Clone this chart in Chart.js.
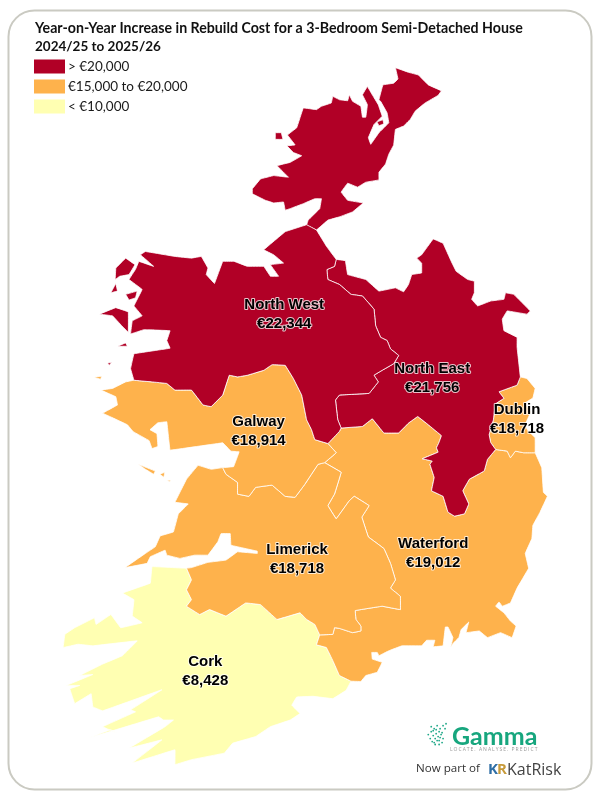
<!DOCTYPE html>
<html>
<head>
<meta charset="utf-8">
<title>Rebuild Cost Map</title>
<script src="https://cdn.jsdelivr.net/npm/chart.js@4/dist/chart.umd.min.js"></script>
<style>
  html, body { margin: 0; padding: 0; background: #fff; }
  canvas { display: block; }
</style>
</head>
<body>
<canvas id="map" width="600" height="800"></canvas>
<script>
// Region table
var regionNames = ['North West', 'North East', 'Dublin', 'Galway', 'Limerick', 'Waterford', 'Cork'];
var regionCosts = ['€22,344', '€21,756', '€18,718', '€18,914', '€18,718', '€19,012', '€8,428'];
var regionBands = [0, 0, 1, 1, 1, 1, 2];
var labelX = [284, 434, 520, 258, 297, 435, 204];
var labelY = [304, 369, 410, 422, 551, 545, 664];

var legendLabels = ['> €20,000', '€15,000 to €20,000', '< €10,000'];
var bandColors = ['#b10026', '#feb24c', '#ffffb2'];
var titleLines = ['Year-on-Year Increase in Rebuild Cost for a 3-Bedroom Semi-Detached House', '2024/25 to 2025/26'];

// Shared borders, so neighbouring regions line up
var nwNeBorder = [[336.7,258],[335,265],[327.3,268.3],[328.3,278.3],[340,283.3],[351.7,293.3],[363.3,295],[375,308.3],[376.7,325],[381.7,336.7],[388.3,340],[391.7,348.3],[400,355],[395,363.3],[383.3,370],[375,375],[379.3,381.7],[370,393.3],[340,395],[336,400],[338.3,420],[341.7,428.3]];
var nwGalwayBorder = [[131.7,380],[150,381.7],[165,383.3],[173.3,390],[190,390],[201.7,405],[210,406.7],[221.7,395],[228.3,375],[236.7,376.7],[246.7,375],[263.3,370],[271.7,364.3],[285,365],[293.3,378.3],[301.7,395],[306.7,420],[311.7,430],[315,440],[328.3,444]];
var nwWaterfordBorder = [[328.3,444],[340,431.7],[341.7,428.3]];
var neWaterfordBorder = [[341.7,428.3],[363.3,426.7],[373.3,419],[385,433.3],[400,433.3],[410,423.3],[419.3,416.7],[430,425],[443.3,436],[440.7,443.3],[438.3,448.3],[440,452.7],[424,459.3],[434,461.7],[431.7,465],[436,478.3],[433.3,491.7],[445,497.3],[450,513.3],[456.7,517.3],[466.7,515],[471,505],[465,491.7],[471.7,480],[486.7,471.7],[490,460],[498.3,450]];
var neDublinBorder = [[523.3,376.7],[520,385],[501.7,391.7],[506.7,398.3],[498,404],[496,420],[491.7,435],[493.3,443],[498.3,450]];
var dublinWaterfordBorder = [[498.3,450],[510,451.7],[513.3,458.3],[518.3,451.7],[526.7,453.3],[538.3,453.3]];
var galwayLimerickBorder = [[221.7,468.3],[225,475],[236.7,483.3],[236.7,495],[248.3,497.3],[255,488.3],[271.7,486],[285,497.3],[295,498.3],[305,485],[318.3,465],[325,463.3]];
var galwayWaterfordBorder = [[325,463.3],[336.7,453.3],[328.3,444]];
var limerickWaterfordBorder = [[325,463.3],[341.7,473],[335,495],[328.3,506.7],[336.7,520],[350,501.7],[355,497.3],[370,506.7],[362.7,518.3],[369.3,538.3],[385,550],[391.7,565],[396.7,581.7],[391.7,590],[401.7,598.3],[401.7,611.7],[383.3,608.3],[356,612.7],[356.7,621.7],[361.7,628.3],[361.7,633.3],[353.3,635],[340,630.7],[335,630],[333.3,636.7],[320,637.3]];
var corkLimerickBorder = [[320,637.3],[315,626.7],[306.7,621.7],[300,615],[276.7,621.7],[260,606.7],[245,605],[225,618.3],[208.3,611.7],[198.3,616.7],[185,608.3],[190,601.7],[185,591.7],[190,581.7],[185,570]];
var corkWaterfordBorder = [[320,637.3],[316.7,647.3],[326.7,650],[333.3,663.3],[340,678.3],[351.7,684]];

// Coast lines
var nwCoast = [[128.3,368.3],[131.7,353.3],[168.3,347.7],[165,340],[168.3,330],[141.7,329],[128.3,333.3],[130,320],[140,315],[131.7,305],[140,288.3],[126.7,278.3],[133.3,268],[136.7,260],[151.7,265],[138.3,253.3],[143.3,250],[173.3,255],[190,256.7],[200,255],[206.7,266.7],[205,273.3],[213.3,282.3],[221.7,260],[233.3,260],[246.7,265],[263.3,265],[270,275],[278.3,275],[270,263.3],[283.3,261.7],[273.3,253.3],[263.3,248.3],[285,230],[306.7,223],[316.7,228.3],[327,245]];
var neCoast = [[346,259.3],[348.3,273.3],[366.7,278.3],[380,290],[396.7,286.7],[405,290.7],[410,283.3],[413.3,273.3],[423.3,271.7],[423.3,261.7],[418.3,256.7],[423.3,253.3],[435,237.3],[445,241.7],[453.3,260],[458.3,270],[470,278.3],[476.7,280],[476.7,291.7],[474,298.3],[480,305],[493.3,300],[506.7,298.3],[508.3,291.7],[516.7,293.3],[533.3,310],[530,313.3],[510,310],[505,318.3],[506.7,330],[520,336.7],[520,346.7]];
var dublinCoast = [[530,378.3],[538.3,388.3],[536,398],[528,403],[534,412],[528,425],[531,431],[538.3,438]];
var waterfordCoast = [[545,468.3],[546.7,493.3],[550.7,497.3],[543.3,513.3],[536,526.7],[535,540],[528.3,555],[531.7,570],[520,590],[513.3,605],[505,608.3],[501.7,604],[498.3,608.3],[506.7,615],[513.3,623.3],[519,628.3],[515,640],[503.3,635],[490,640],[481.7,633.3],[468.3,635],[471,624.3],[463.3,632],[461,640],[455,646],[452.7,650],[455,640],[450,629.3],[447.3,629.3],[446,640],[445,648.3],[435,649.3],[436.7,642.7],[428.3,642.7],[423.3,648.3],[403.3,648.3],[390,653.3],[380,658.3],[378.3,655],[372.7,655],[373.3,661.7],[383.3,665],[378.3,675],[366.7,678.3],[361.7,684.3]];
var galwayCoast = [[123.3,381.7],[110,388.3],[98.3,390],[113.3,396.7],[115,405],[100,413.3],[108,417],[125,425],[131,432],[147,441],[150,449],[156,447],[155,434],[148,430],[156,423],[165,422],[167,440],[168.3,450.7],[221.7,443.3],[230,451.7],[238.3,452.3],[232.7,467.3]];
var limerickCoast = [[190,569.3],[206.7,564],[225,561.7],[236.7,553.3],[256.7,555],[256.7,552.7],[230,546.7],[229.3,535],[220,535],[216.7,543.3],[206.7,556.7],[193.3,556.7],[178.3,560],[165,556.7],[163.3,551.7],[148.3,558.3],[145,565],[122.7,569.3],[143.3,555],[153.3,548.3],[158.3,537.3],[171.7,533.3],[176.7,515],[186.7,505],[173.3,503.3],[185,480],[196.7,466],[210,470]];
var corkCoast = [[346.7,693.3],[333.3,701.7],[313.3,699.3],[296.7,700],[291.7,708.3],[300,716.7],[290,723.3],[270,730],[255,740],[231.7,746.7],[223.3,756.7],[190,763.3],[173.3,768.3],[173.3,753.3],[130,766.7],[160,743.3],[126.7,751.7],[163.3,730],[171.7,723.3],[161.7,723.3],[156.7,720],[85,741.7],[108,733],[115,736.7],[100,730],[133.3,715],[128.3,713],[160,692.7],[100,714],[90,710],[88.3,696.7],[71.7,706.7],[66.7,691.7],[76.7,688.3],[63.3,688.3],[90,677.3],[76.7,678.3],[100,666.7],[120,658.3],[135,643.3],[90,648.3],[75,646.7],[60,650],[61.7,636.7],[71.7,630],[91.7,620],[93.3,626.7],[108.3,616.7],[118.3,630],[140,625],[130,618.3],[131.7,601.7],[120,595],[148.3,585],[150,568.3]];

// Donegal and the islands are separate pieces
var donegal = [[396.7,64.3],[410,69],[420,71.7],[430,81.7],[443.3,87.7],[440,92.3],[426.7,100],[416.7,108.3],[411.7,116.7],[405,123.3],[396.7,126.7],[395,142.3],[390,151.7],[386.7,161.7],[380,170],[380,177.7],[366.7,180],[358.3,185],[348.3,181],[341.7,190],[348.3,198.3],[364,201],[353.3,210],[340,215],[328.3,218.3],[316.7,228.3],[306.7,223.3],[308.3,218.3],[320,206.7],[321.7,196.7],[315,196.7],[303.3,201.7],[290,206.7],[285,208.3],[283.3,200],[273.3,201],[265,198.3],[251.7,191.7],[251.7,186.7],[260,176.7],[273.3,173.3],[288.3,175],[276.7,163.3],[290,160],[301.7,153.3],[293.3,150],[286.7,143.3],[295,142.3],[287.3,132.3],[296.7,125],[303.3,105],[316.7,106.7],[321.7,103.3],[331.7,100],[333.3,93.3],[340,96.7],[348.3,97.7],[350,91.7],[353.3,98.3],[361.7,103.3],[363.3,114.3],[366.7,114.3],[368.3,101.7],[363.3,91.7],[368.3,83.3],[373.3,91.7],[379.3,101.7],[383.3,113.3],[375,121.7],[369.3,135],[371.7,141.7],[380,130],[390,120],[388.3,110],[381.7,98.3],[380,96.7],[384,81.7],[395,80],[399.3,75.7]];
var inchIsland = [[378,119],[384,117],[385,121],[380,123]];
var arranmore = [[275,130],[281,130],[282.7,136.7],[275,136.7]];
var erris1 = [[113.3,266.7],[123.3,256.7],[132.7,263.3],[126.7,273.3],[117.3,275],[112.7,278.3]];
var erris2 = [[108.3,291.7],[113.3,282.3],[115,290]];
var erris3 = [[123.3,293.3],[135,290],[133.3,296.7],[126.7,299]];
var achill = [[96.7,313.3],[113.3,306.7],[126,311],[126,331.7],[119.3,325],[110,315]];
var clareIsland = [[115,345.7],[123.3,342.3],[125,345.7]];
var inishturk = [[105,363],[109.3,361.7],[106.7,365]];
var aranMore = [[136,465],[153.3,471.7],[151.7,475],[143.3,470]];
var aranMiddle = [[158,475],[163,473],[162,478]];
var aranEast = [[165,481],[169,481],[168,482.5]];
var inishbofin = [[91,377],[99,376],[98,379]];

// Logo dots
var logoDotX = [430,433,436,439,442,445,448,432,435,438,441,444,447,434,437,440,443,436,439,442,435,438,441,444,433,437,441,445];
var logoDotY = [738,735,732,729,732,729,727,742,739,737,735,736,732,745,742,740,738,746,744,741,734,733,744,746,730,748,748,742];

function rev(a) { return a.slice().reverse(); }

var northWest = [].concat(nwNeBorder, rev(nwWaterfordBorder), rev(nwGalwayBorder), nwCoast);
var northEast = [].concat(rev(nwNeBorder), neCoast, neDublinBorder, rev(neWaterfordBorder));
var dublin = [].concat(rev(neDublinBorder), dublinCoast, rev(dublinWaterfordBorder));
var galway = [].concat(nwGalwayBorder, rev(galwayWaterfordBorder), rev(galwayLimerickBorder), rev(galwayCoast));
var waterford = [].concat(nwWaterfordBorder, neWaterfordBorder, dublinWaterfordBorder, waterfordCoast, rev(corkWaterfordBorder), rev(limerickWaterfordBorder), galwayWaterfordBorder);
var limerick = [].concat(galwayLimerickBorder, limerickWaterfordBorder, corkLimerickBorder, limerickCoast);
var cork = [].concat(rev(corkLimerickBorder), corkWaterfordBorder, corkCoast);

function shape(outline, band, name) {
    var pts = outline.concat([outline[0]]).map(function (p) { return { x: p[0], y: p[1] }; });
    return {
        label: name,
        data: pts,
        showLine: true,
        fill: 'shape',
        tension: 0.02,
        pointRadius: 0,
        pointHoverRadius: 0,
        borderWidth: 0.8,
        borderColor: '#ffffff',
        backgroundColor: bandColors[band]
    };
}

var datasets = [
    shape(northWest, regionBands[0], regionNames[0]),
    shape(donegal, regionBands[0], 'Donegal'),
    shape(inchIsland, regionBands[0], 'Inch Island'),
    shape(arranmore, regionBands[0], 'Arranmore'),
    shape(erris1, regionBands[0], 'Erris'),
    shape(erris2, regionBands[0], 'Erris'),
    shape(erris3, regionBands[0], 'Erris'),
    shape(achill, regionBands[0], 'Achill'),
    shape(clareIsland, regionBands[0], 'Clare Island'),
    shape(inishturk, regionBands[0], 'Inishturk'),
    shape(northEast, regionBands[1], regionNames[1]),
    shape(dublin, regionBands[2], regionNames[2]),
    shape(galway, regionBands[3], regionNames[3]),
    shape(aranMore, regionBands[3], 'Aran'),
    shape(aranMiddle, regionBands[3], 'Aran'),
    shape(aranEast, regionBands[3], 'Aran'),
    shape(inishbofin, regionBands[3], 'Inishbofin'),
    shape(limerick, regionBands[4], regionNames[4]),
    shape(waterford, regionBands[5], regionNames[5]),
    shape(cork, regionBands[6], regionNames[6]),
    {
        label: 'logo',
        data: logoDotX.map(function (x, i) { return { x: x, y: logoDotY[i] }; }),
        showLine: false,
        pointRadius: 0.9,
        pointBackgroundColor: '#1fa888',
        pointBorderWidth: 0
    }
];

// Card frame, title, legend, region labels and footer logo
var mapDecor = {
    id: 'mapDecor',
    beforeDatasetsDraw: function (chart) {
        var ctx = chart.ctx;
        ctx.save();
        ctx.beginPath();
        ctx.roundRect(8.5, 10.5, 583, 779, 26);
        ctx.lineWidth = 2;
        ctx.strokeStyle = '#cacac2';
        ctx.stroke();
        ctx.restore();
    },
    afterDatasetsDraw: function (chart) {
        var ctx = chart.ctx;
        var sx = chart.scales.x, sy = chart.scales.y;
        ctx.save();

        ctx.textBaseline = 'middle';
        ctx.textAlign = 'left';
        ctx.fillStyle = '#111111';
        ctx.font = 'bold 14.2px Lato';
        ctx.fillText(titleLines[0], 35, 28);
        ctx.font = 'bold 13.5px Lato';
        ctx.fillText(titleLines[1], 35, 46.5);

        ctx.font = '13.5px Lato';
        legendLabels.forEach(function (t, i) {
            var y = 66.5 + i * 20;
            ctx.fillStyle = bandColors[i];
            ctx.fillRect(34, y - 7, 31, 14);
            ctx.fillStyle = '#1a1a1a';
            ctx.fillText(t, 68, y);
        });

        ctx.textAlign = 'center';
        ctx.lineJoin = 'round';
        ctx.font = 'bold 15px "Liberation Sans"';
        regionNames.forEach(function (name, i) {
            var x = sx.getPixelForValue(labelX[i]);
            var y = sy.getPixelForValue(labelY[i]);
            ctx.lineWidth = 2;
            ctx.strokeStyle = 'rgba(255,255,255,0.75)';
            ctx.strokeText(name, x, y);
            ctx.strokeText(regionCosts[i], x, y + 19);
            ctx.fillStyle = '#000000';
            ctx.fillText(name, x, y);
            ctx.fillText(regionCosts[i], x, y + 19);
        });

        // footer
        ctx.textAlign = 'left';
        ctx.fillStyle = '#17a67e';
        ctx.font = 'bold 25px Lato';
        ctx.fillText('Gamma', 452, 737);
        ctx.fillStyle = '#9a9a9a';
        ctx.font = '5px "Open Sans"';
        ctx.letterSpacing = '1px';
        ctx.fillText('LOCATE. ANALYSE. PREDICT', 450, 750);
        ctx.letterSpacing = '0px';
        ctx.fillStyle = '#333333';
        ctx.font = '11.6px "Open Sans"';
        ctx.fillText('Now part of', 416, 769);
        ctx.font = 'bold 15px "Open Sans"';
        ctx.fillStyle = '#2f6ea5';
        ctx.fillText('K', 488, 770);
        ctx.fillStyle = '#c79a3a';
        ctx.fillText('R', 497, 770);
        ctx.fillStyle = '#444444';
        ctx.font = '16px "Open Sans"';
        ctx.fillText('KatRisk', 507, 770);
        ctx.restore();
    }
};

new Chart(document.getElementById('map'), {
    type: 'scatter',
    data: { datasets: datasets },
    options: {
        responsive: false,
        animation: false,
        layout: { padding: 0 },
        scales: {
            x: { type: 'linear', min: 0, max: 600, display: false },
            y: { type: 'linear', min: 0, max: 800, reverse: true, display: false }
        },
        plugins: {
            legend: { display: false },
            title: { display: false },
            tooltip: { enabled: false }
        }
    },
    plugins: [mapDecor]
});
</script>
</body>
</html>
